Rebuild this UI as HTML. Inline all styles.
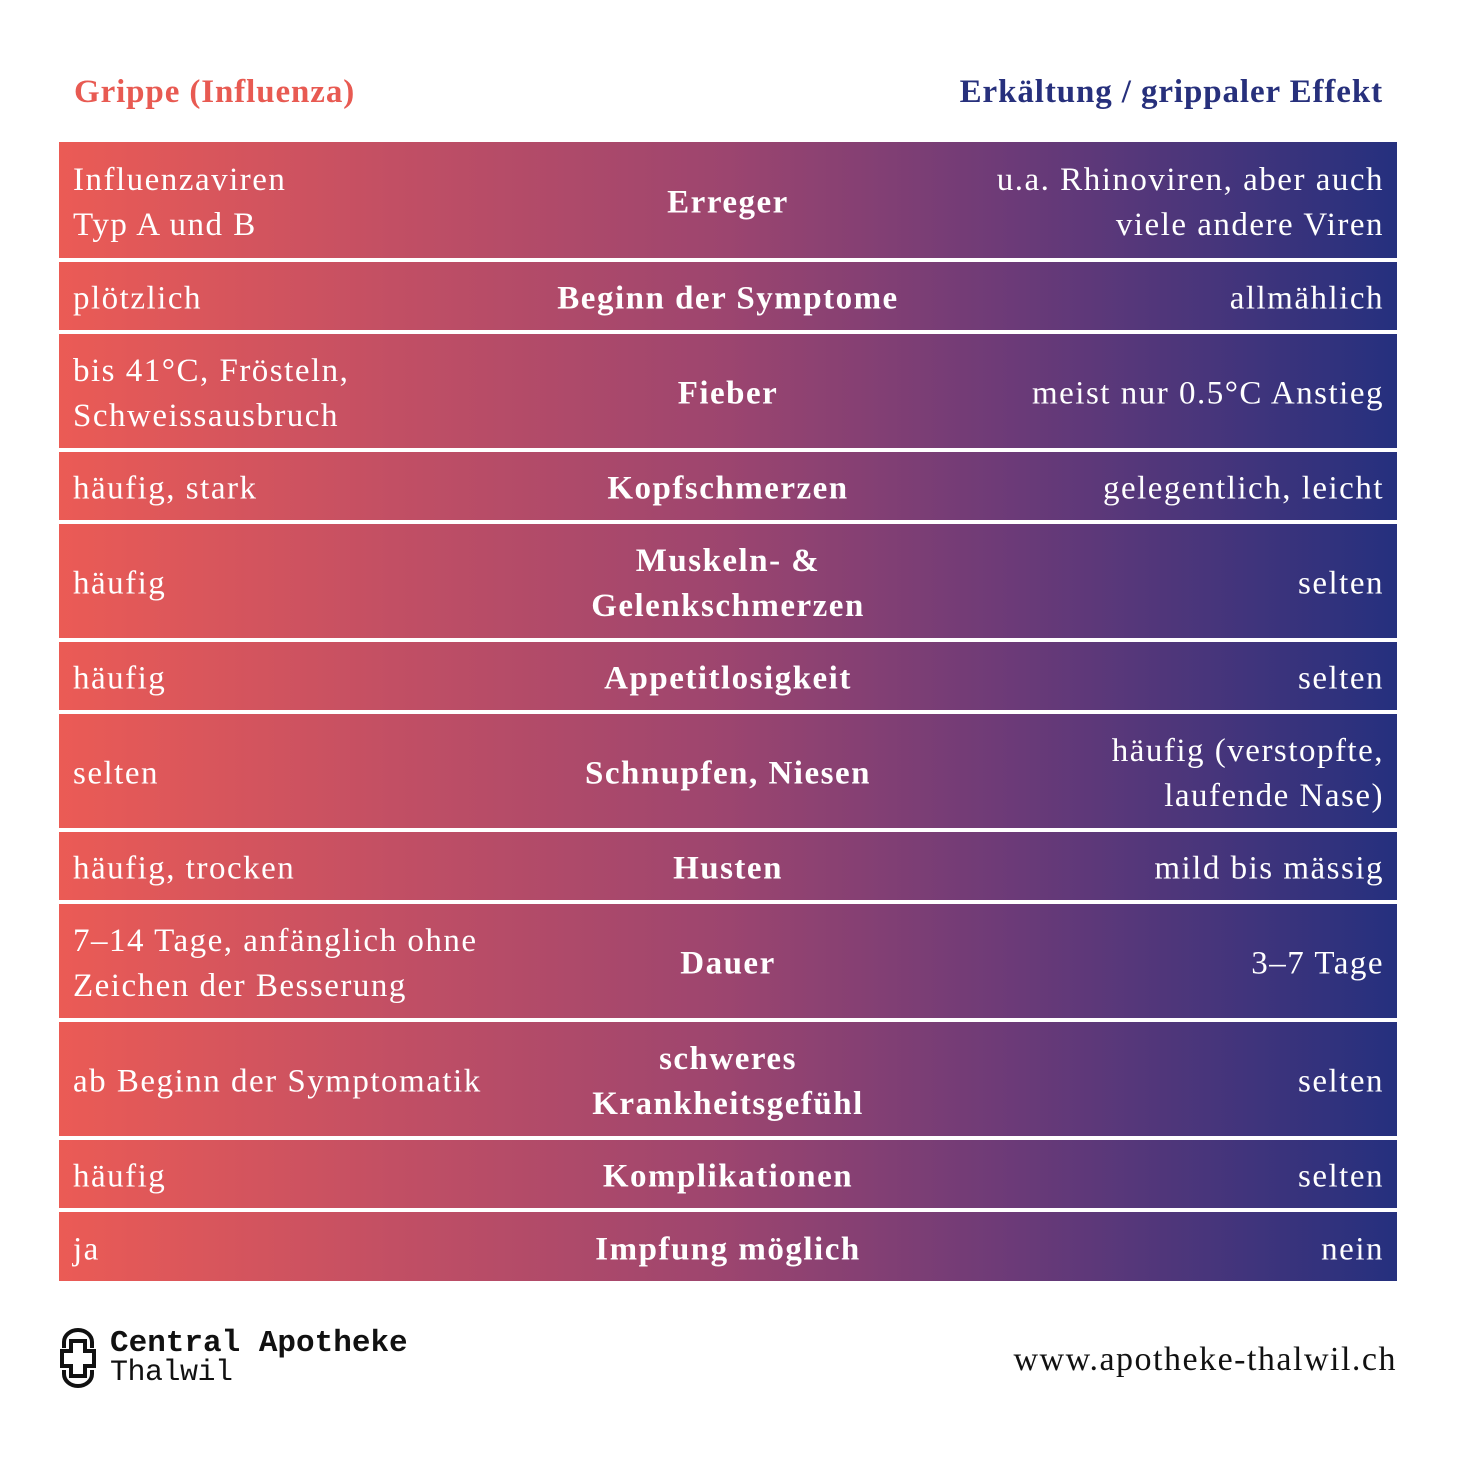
<!DOCTYPE html>
<html><head><meta charset="utf-8">
<style>
body{margin:0;width:1457px;height:1457px;background:#fff;position:relative;font-family:"Liberation Serif",serif;overflow:hidden}
.h{position:absolute;top:74px;font-size:33px;font-weight:bold;letter-spacing:0.9px}
.row{position:absolute;left:59px;width:1338px;background:linear-gradient(90deg,#eb5b55 0%,#c24f64 25%,#9c456f 50%,#6a3a78 72%,#25307e 100%);color:#fff;font-size:33px;letter-spacing:1.5px}
.row div{position:absolute;top:calc(50% + 3px);transform:translateY(-50%);line-height:45px;white-space:nowrap}
.l{left:14px}.c{left:0;width:100%;text-align:center;font-weight:bold}.r{right:13px;text-align:right}
</style></head><body>
<div class="h" style="left:74px;color:#e85a52">Grippe (Influenza)</div>
<div class="h" style="right:74px;color:#27307c">Erkältung / grippaler Effekt</div>
<div id="t"></div>
<div style="position:absolute;left:58px;top:1328px">
<svg width="40" height="60" viewBox="0 0 40 60" style="position:absolute;left:0;top:0"><path d="M6 20 V14 A14 12 0 0 1 34 14 V20 M6 42 V46 A14 12 0 0 0 34 46 V42" fill="none" stroke="#111" stroke-width="4"/><path d="M13 13 H27 V23 H36 V38 H27 V48 H13 V38 H4 V23 H13 Z" fill="none" stroke="#111" stroke-width="4"/></svg>
<div style="position:absolute;left:52px;top:-2px;font-family:'Liberation Mono',monospace;font-weight:bold;font-size:31px;color:#111;white-space:nowrap;letter-spacing:0px">Central Apotheke</div>
<div style="position:absolute;left:52px;top:28px;font-family:'Liberation Mono',monospace;font-size:30px;color:#111;letter-spacing:-0.5px">Thalwil</div>
</div>
<div style="position:absolute;right:60px;top:1341px;font-size:34px;letter-spacing:1.5px;color:#111">www.apotheke-thalwil.ch</div>
<script>
const tops=[142,262,334,452,524,642,714,832,904,1022,1140,1212];
const bots=[258,330,448,520,638,710,828,900,1018,1136,1208,1281];
const lefts=["Influenzaviren<br>Typ A und B","plötzlich","bis 41°C, Frösteln,<br>Schweissausbruch","häufig, stark","häufig","häufig","selten","häufig, trocken","7–14 Tage, anfänglich ohne<br>Zeichen der Besserung","ab Beginn der Symptomatik","häufig","ja"];
const mids=["Erreger","Beginn der Symptome","Fieber","Kopfschmerzen","Muskeln- &amp;<br>Gelenkschmerzen","Appetitlosigkeit","Schnupfen, Niesen","Husten","Dauer","schweres<br>Krankheitsgefühl","Komplikationen","Impfung möglich"];
const rights=["u.a. Rhinoviren, aber auch<br>viele andere Viren","allmählich","meist nur 0.5°C Anstieg","gelegentlich, leicht","selten","selten","häufig (verstopfte,<br>laufende Nase)","mild bis mässig","3–7 Tage","selten","selten","nein"];
const t=document.getElementById('t');
for(let i=0;i<tops.length;i++){
const r=document.createElement('div');r.className='row';


r.style.top=tops[i]+'px';r.style.height=(bots[i]-tops[i])+'px';
r.innerHTML='<div class="l">'+lefts[i]+'</div><div class="c">'+mids[i]+'</div><div class="r">'+rights[i]+'</div>';
t.appendChild(r);}
</script>
</body></html>
